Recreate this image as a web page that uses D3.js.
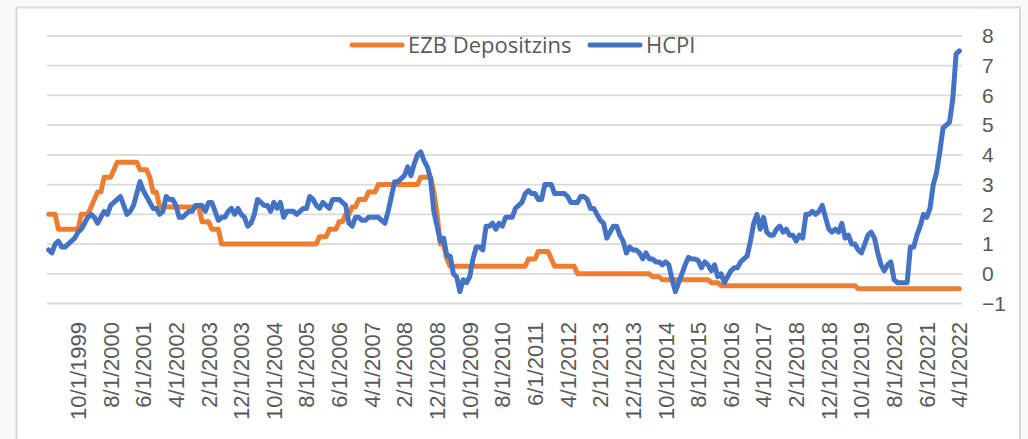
<!DOCTYPE html>
<html>
<head>
<meta charset="utf-8">
<script src="https://cdn.jsdelivr.net/npm/d3@7"></script>
<style>
  body { margin: 0; background: #faf9f8; }
  svg { display: block; font-family: "Open Sans", sans-serif; }
</style>
</head>
<body>
<svg id="chart" width="1028" height="439"></svg>
<script>
// monthly categories Jan 1999 .. Apr 2022
const months = d3.timeMonth.range(new Date(1999, 0, 1), new Date(2022, 4, 1));

const tickLabels = [
  "10/1/1999", "8/1/2000", "6/1/2001", "4/1/2002", "2/1/2003", "12/1/2003", "10/1/2004",
  "8/1/2005", "6/1/2006", "4/1/2007", "2/1/2008", "12/1/2008", "10/1/2009", "8/1/2010",
  "6/1/2011", "4/1/2012", "2/1/2013", "12/1/2013", "10/1/2014", "8/1/2015", "6/1/2016",
  "4/1/2017", "2/1/2018", "12/1/2018", "10/1/2019", "8/1/2020", "6/1/2021", "4/1/2022"
];

const yTicks = [-1, 0, 1, 2, 3, 4, 5, 6, 7, 8];

const seriesNames = ["EZB Depositzins", "HCPI"];

// EZB Depositzins, one row per year
const ezb = [
  2.0, 2.0, 2.0, 1.5, 1.5, 1.5, 1.5, 1.5, 1.5, 1.5, 2.0, 2.0,              // 1999
  2.0, 2.25, 2.5, 2.75, 2.75, 3.25, 3.25, 3.25, 3.5, 3.75, 3.75, 3.75,      // 2000
  3.75, 3.75, 3.75, 3.75, 3.5, 3.5, 3.5, 3.25, 2.75, 2.75, 2.25, 2.25,      // 2001
  2.25, 2.25, 2.25, 2.25, 2.25, 2.25, 2.25, 2.25, 2.25, 2.25, 2.25, 1.75,   // 2002
  1.75, 1.75, 1.5, 1.5, 1.5, 1.0, 1.0, 1.0, 1.0, 1.0, 1.0, 1.0,             // 2003
  1.0, 1.0, 1.0, 1.0, 1.0, 1.0, 1.0, 1.0, 1.0, 1.0, 1.0, 1.0,               // 2004
  1.0, 1.0, 1.0, 1.0, 1.0, 1.0, 1.0, 1.0, 1.0, 1.0, 1.0, 1.25,              // 2005
  1.25, 1.25, 1.5, 1.5, 1.5, 1.75, 1.75, 2.0, 2.0, 2.25, 2.25, 2.5,         // 2006
  2.5, 2.5, 2.75, 2.75, 2.75, 3.0, 3.0, 3.0, 3.0, 3.0, 3.0, 3.0,            // 2007
  3.0, 3.0, 3.0, 3.0, 3.0, 3.0, 3.25, 3.25, 3.25, 3.25, 2.75, 2.0,          // 2008
  1.0, 1.0, 0.5, 0.25, 0.25, 0.25, 0.25, 0.25, 0.25, 0.25, 0.25, 0.25,      // 2009
  0.25, 0.25, 0.25, 0.25, 0.25, 0.25, 0.25, 0.25, 0.25, 0.25, 0.25, 0.25,   // 2010
  0.25, 0.25, 0.25, 0.5, 0.5, 0.5, 0.75, 0.75, 0.75, 0.75, 0.5, 0.25,       // 2011
  0.25, 0.25, 0.25, 0.25, 0.25, 0.25, 0.0, 0.0, 0.0, 0.0, 0.0, 0.0,         // 2012
  0.0, 0.0, 0.0, 0.0, 0.0, 0.0, 0.0, 0.0, 0.0, 0.0, 0.0, 0.0,               // 2013
  0.0, 0.0, 0.0, 0.0, 0.0, -0.1, -0.1, -0.1, -0.2, -0.2, -0.2, -0.2,        // 2014
  -0.2, -0.2, -0.2, -0.2, -0.2, -0.2, -0.2, -0.2, -0.2, -0.2, -0.2, -0.3,   // 2015
  -0.3, -0.3, -0.4, -0.4, -0.4, -0.4, -0.4, -0.4, -0.4, -0.4, -0.4, -0.4,   // 2016
  -0.4, -0.4, -0.4, -0.4, -0.4, -0.4, -0.4, -0.4, -0.4, -0.4, -0.4, -0.4,   // 2017
  -0.4, -0.4, -0.4, -0.4, -0.4, -0.4, -0.4, -0.4, -0.4, -0.4, -0.4, -0.4,   // 2018
  -0.4, -0.4, -0.4, -0.4, -0.4, -0.4, -0.4, -0.4, -0.5, -0.5, -0.5, -0.5,   // 2019
  -0.5, -0.5, -0.5, -0.5, -0.5, -0.5, -0.5, -0.5, -0.5, -0.5, -0.5, -0.5,   // 2020
  -0.5, -0.5, -0.5, -0.5, -0.5, -0.5, -0.5, -0.5, -0.5, -0.5, -0.5, -0.5,   // 2021
  -0.5, -0.5, -0.5, -0.5                                                    // 2022
];

// HCPI, one row per year
const hcpi = [
  0.8, 0.7, 1.0, 1.1, 0.9, 0.9, 1.0, 1.1, 1.2, 1.4, 1.5, 1.7,     // 1999
  1.9, 2.0, 1.9, 1.7, 1.9, 2.1, 2.0, 2.3, 2.4, 2.5, 2.6, 2.3,     // 2000
  2.0, 2.1, 2.3, 2.7, 3.1, 2.8, 2.6, 2.4, 2.2, 2.2, 2.0, 2.1,     // 2001
  2.6, 2.5, 2.5, 2.3, 1.9, 1.9, 2.0, 2.1, 2.1, 2.3, 2.3, 2.3,     // 2002
  2.1, 2.4, 2.4, 2.1, 1.8, 1.9, 1.9, 2.1, 2.2, 2.0, 2.2, 2.0,     // 2003
  1.9, 1.6, 1.7, 2.0, 2.5, 2.4, 2.3, 2.3, 2.1, 2.4, 2.2, 2.4,     // 2004
  1.9, 2.1, 2.1, 2.1, 2.0, 2.1, 2.2, 2.2, 2.6, 2.5, 2.3, 2.2,     // 2005
  2.4, 2.3, 2.2, 2.5, 2.5, 2.5, 2.4, 2.3, 1.7, 1.6, 1.9, 1.9,     // 2006
  1.8, 1.8, 1.9, 1.9, 1.9, 1.9, 1.8, 1.7, 2.1, 2.6, 3.1, 3.1,     // 2007
  3.2, 3.3, 3.6, 3.3, 3.7, 4.0, 4.1, 3.8, 3.6, 3.2, 2.1, 1.6,     // 2008
  1.1, 1.2, 0.6, 0.6, 0.0, -0.1, -0.6, -0.2, -0.3, -0.1, 0.5, 0.9, // 2009
  0.9, 0.8, 1.6, 1.6, 1.7, 1.5, 1.7, 1.6, 1.9, 1.9, 1.9, 2.2,     // 2010
  2.3, 2.4, 2.7, 2.8, 2.7, 2.7, 2.5, 2.5, 3.0, 3.0, 3.0, 2.7,     // 2011
  2.7, 2.7, 2.7, 2.6, 2.4, 2.4, 2.4, 2.6, 2.6, 2.5, 2.2, 2.2,     // 2012
  2.0, 1.8, 1.7, 1.2, 1.4, 1.6, 1.6, 1.3, 1.1, 0.7, 0.9, 0.8,     // 2013
  0.8, 0.7, 0.5, 0.7, 0.5, 0.5, 0.4, 0.4, 0.3, 0.4, 0.3, -0.2,    // 2014
  -0.6, -0.3, 0.0, 0.3, 0.55, 0.5, 0.5, 0.45, 0.2, 0.4, 0.3, 0.1, // 2015
  0.3, -0.1, 0.0, -0.3, -0.1, 0.1, 0.2, 0.2, 0.4, 0.5, 0.6, 1.1,  // 2016
  1.7, 2.0, 1.5, 1.9, 1.4, 1.3, 1.3, 1.5, 1.6, 1.4, 1.5, 1.3,     // 2017
  1.3, 1.1, 1.3, 1.2, 2.0, 2.0, 2.1, 2.0, 2.1, 2.3, 1.9, 1.5,     // 2018
  1.4, 1.5, 1.4, 1.7, 1.2, 1.3, 1.0, 1.0, 0.8, 0.7, 1.0, 1.3,     // 2019
  1.4, 1.2, 0.7, 0.3, 0.1, 0.3, 0.4, -0.2, -0.3, -0.3, -0.3, -0.3, // 2020
  0.9, 0.9, 1.3, 1.6, 2.0, 1.9, 2.2, 3.0, 3.4, 4.1, 4.9, 5.0,     // 2021
  5.1, 5.9, 7.4, 7.5                                              // 2022
];

const colors = ["#ed7d31", "#4472c4"];

const svg = d3.select("#chart");
const fmt = d3.timeFormat("%-m/%-d/%Y");
const cats = months.map(fmt);

const x = d3.scaleBand().domain(cats).range([47, 961]);
const y = d3.scaleLinear().domain([-1, 8]).range([303.5, 36]);
const cx = c => x(c) + x.bandwidth() / 2;

// chart frame
svg.append("rect")
  .attr("x", 16.5).attr("y", 7.5)
  .attr("width", 1003.5).attr("height", 450)
  .attr("fill", "#fff")
  .attr("stroke", "#d9d9d9")
  .attr("stroke-width", 2);

// gridlines
svg.append("g").selectAll("line")
  .data(yTicks)
  .join("line")
  .attr("x1", 47).attr("x2", 962)
  .attr("y1", d => y(d)).attr("y2", d => y(d))
  .attr("stroke", "#d9d9d9")
  .attr("stroke-width", 1.8);

// category axis
const xAxis = svg.append("g")
  .attr("transform", "translate(0,322)")
  .call(d3.axisBottom(x).tickValues(tickLabels).tickSize(0));
xAxis.select(".domain").remove();
xAxis.selectAll("text")
  .attr("transform", "rotate(-90)")
  .attr("text-anchor", "end")
  .attr("x", 0).attr("y", 0)
  .attr("dy", "0.36em")
  .attr("fill", "#595959")
  .style("font-size", "22px");

// value axis (right)
const yAxis = svg.append("g")
  .attr("transform", "translate(982,0)")
  .call(d3.axisRight(y).tickValues(yTicks).tickSize(0).tickPadding(0));
yAxis.select(".domain").remove();
yAxis.selectAll("text")
  .attr("fill", "#595959")
  .style("font-size", "21px");

// lines
const line = d3.line()
  .x((d, i) => cx(cats[i]))
  .y(d => y(d));

[ezb, hcpi].forEach((s, k) => {
  svg.append("path")
    .datum(s)
    .attr("d", line)
    .attr("fill", "none")
    .attr("stroke", colors[k])
    .attr("stroke-width", 5)
    .attr("stroke-linejoin", "round")
    .attr("stroke-linecap", "round");
});

// legend
const legendX = [352, 590];
const legend = svg.append("g");
seriesNames.forEach((name, k) => {
  legend.append("line")
    .attr("x1", legendX[k]).attr("x2", legendX[k] + 50)
    .attr("y1", 45).attr("y2", 45)
    .attr("stroke", colors[k])
    .attr("stroke-width", 5)
    .attr("stroke-linecap", "round");
  legend.append("text")
    .attr("x", legendX[k] + 56).attr("y", 45)
    .attr("dy", "0.35em")
    .attr("fill", "#595959")
    .style("font-size", "22px")
    .text(name);
});
</script>
</body>
</html>
